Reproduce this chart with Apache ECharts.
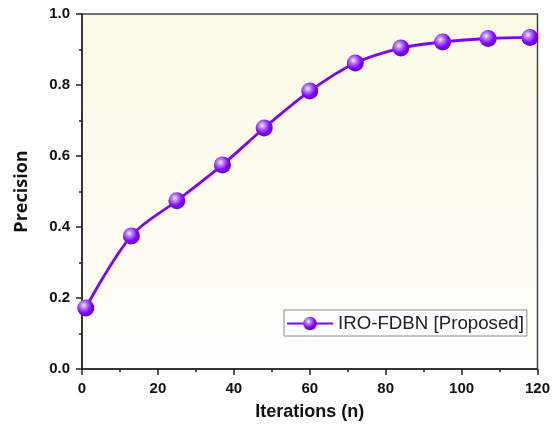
<!DOCTYPE html>
<html>
<head>
<meta charset="utf-8">
<script src="https://cdn.jsdelivr.net/npm/echarts@6/dist/echarts.min.js"></script>
<style>
  html, body { margin: 0; padding: 0; background: #fff; }
  #chart { width: 553px; height: 431px; }
</style>
</head>
<body>
<div id="chart"></div>
<script>
// values
const iterations = [1, 13, 25, 37, 48, 60, 72, 84, 95, 107, 118];
const precision = [0.172, 0.375, 0.474, 0.575, 0.679, 0.783, 0.862, 0.904, 0.921, 0.931, 0.934];
const seriesName = 'IRO-FDBN [Proposed]';

const points = iterations.map(function (x, i) {
  return [x, precision[i]];
});

const purple = '#8000ff';
const ball = new echarts.graphic.RadialGradient(0.38, 0.35, 0.65, [
  { offset: 0, color: '#f4ecff' },
  { offset: 0.3, color: '#b57bff' },
  { offset: 0.7, color: '#8000ff' },
  { offset: 1, color: '#6a00d8' }
]);

const labelStyle = {
  color: '#111',
  fontSize: 15,
  fontWeight: 'bold',
  fontFamily: 'Liberation Sans, Arial, sans-serif'
};

const myChart = echarts.init(document.getElementById('chart'), null, { renderer: 'canvas' });
myChart.setOption({
  animation: false,
  grid: {
    left: 82,
    right: 13,
    top: 14,
    bottom: 62,
    show: true,
    borderColor: '#444',
    borderWidth: 1.5,
    backgroundColor: new echarts.graphic.LinearGradient(0, 0, 0, 1, [
      { offset: 0, color: '#fcfbe6' },
      { offset: 1, color: '#fefefc' }
    ])
  },
  legend: {
    data: [seriesName],
    left: 284,
    top: 310,
    orient: 'horizontal',
    backgroundColor: '#fff',
    borderColor: '#888',
    borderWidth: 1,
    borderRadius: 0,
    padding: [4, 3, 3, 2],
    itemWidth: 46,
    itemHeight: 17,
    itemGap: 4,
    textStyle: {
      fontSize: 18.7,
      color: '#222',
      fontFamily: 'Liberation Sans, Arial, sans-serif'
    }
  },
  xAxis: {
    type: 'value',
    min: 0,
    max: 120,
    interval: 20,
    name: 'Iterations (n)',
    nameLocation: 'middle',
    nameGap: 34,
    nameTextStyle: {
      fontSize: 18,
      fontWeight: 'bold',
      color: '#111',
      fontFamily: 'Liberation Sans, Arial, sans-serif'
    },
    axisLine: { show: true, lineStyle: { color: '#222', width: 1.5 } },
    axisTick: { show: true, inside: false, length: 6, lineStyle: { color: '#222', width: 1.5 } },
    minorTick: { show: true, splitNumber: 2, length: 3, lineStyle: { color: '#222', width: 1.5 } },
    splitLine: { show: false },
    axisLabel: Object.assign({ margin: 12 }, labelStyle)
  },
  yAxis: {
    type: 'value',
    min: 0,
    max: 1,
    interval: 0.2,
    name: 'Precision',
    nameLocation: 'middle',
    nameGap: 51,
    nameTextStyle: {
      fontSize: 18,
      fontWeight: 'bold',
      color: '#111',
      fontFamily: 'Open Sans, sans-serif'
    },
    axisLine: { show: true, lineStyle: { color: '#222', width: 1.5 } },
    axisTick: { show: true, inside: false, length: 6, lineStyle: { color: '#222', width: 1.5 } },
    minorTick: { show: true, splitNumber: 2, length: 3, lineStyle: { color: '#222', width: 1.5 } },
    splitLine: { show: false },
    axisLabel: Object.assign({
      margin: 12,
      formatter: function (v) { return v.toFixed(1); }
    }, labelStyle)
  },
  series: [
    {
      name: seriesName,
      type: 'line',
      data: points,
      smooth: 0.35,
      showSymbol: true,
      symbol: 'circle',
      symbolSize: 17,
      lineStyle: { color: purple, width: 2.8 },
      itemStyle: { color: ball, borderWidth: 0 }
    }
  ]
});
</script>
</body>
</html>
